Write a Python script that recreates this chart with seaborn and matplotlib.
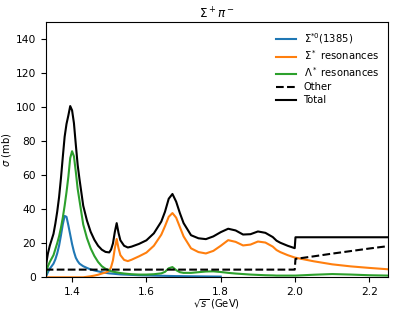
import numpy as np
import matplotlib
matplotlib.use("Agg")
import matplotlib.pyplot as plt
import seaborn as sns

# sqrt(s) grid in GeV
energy = [1.329, 1.332, 1.335, 1.34, 1.345, 1.35, 1.355, 1.36, 1.365, 1.37,
          1.375, 1.38, 1.385, 1.39, 1.395, 1.40, 1.405, 1.41, 1.415, 1.42,
          1.43, 1.44, 1.45, 1.46, 1.47, 1.48, 1.49, 1.50, 1.505, 1.51,
          1.515, 1.52, 1.525, 1.53, 1.54, 1.55, 1.56, 1.58, 1.60, 1.62,
          1.64, 1.65, 1.66, 1.67, 1.68, 1.69, 1.70, 1.72, 1.74, 1.76,
          1.78, 1.80, 1.82, 1.84, 1.86, 1.88, 1.90, 1.92, 1.94, 1.95,
          1.96, 1.98, 1.999, 2.001, 2.05, 2.10, 2.15, 2.20, 2.25]

nan = np.nan
sigma_1385 = [0, 1.5, 3, 5, 6.5, 8, 10.5, 14, 18.5, 24.5,
              31, 36, 35.5, 30.5, 25, 19.5, 15, 11.5, 9.5, 8,
              6.5, 5.5, 4.6, 4.0, 3.5, 3.0, 2.6, 2.3, 2.2, 2.1,
              2.0, 1.9, 1.8, 1.7, 1.6, 1.5, 1.4, 1.2, 1.1, 1.0,
              0.9, 0.85, 0.8, 0.75, 0.7, 0.7, 0.65, 0.6, 0.55, 0.5,
              0.45, 0.4, nan, nan, nan, nan, nan, nan, nan, nan,
              nan, nan, nan, nan, nan, nan, nan, nan, nan]

sigma_res = [0, 0, 0, 0, 0, 0, 0, 0, 0, 0,
             0, 0, 0, 0, 0, 0, 0, 0, 0, 0,
             0, 0.3, 0.6, 1.0, 1.5, 2.2, 2.8, 3.8, 6.0, 10,
             17, 22.5, 17, 13, 10.2, 9.5, 10.3, 12.3, 14.5, 18.5,
             25, 30, 35.5, 37.7, 35, 29.5, 24, 17, 14.8, 14,
             15.5, 18.5, 21.8, 20.8, 18.7, 19.2, 21, 20.4, 18, 16,
             14.8, 13, 11.6, 11.5, 9.4, 7.6, 6.4, 5.5, 4.7]

lambda_res = [0, 4, 6.5, 9, 11, 13, 16.5, 20, 24, 29,
              35, 42, 50, 59, 70, 74, 71, 62, 52, 45,
              31, 23, 17, 12.5, 9, 6.5, 5, 4, 3.6, 3.3,
              3.1, 2.9, 2.7, 2.5, 2.2, 2.0, 1.8, 1.6, 1.6, 1.8,
              2.3, 3.2, 5.3, 6.0, 4.2, 3.0, 2.6, 2.6, 3.0, 3.4,
              3.5, 3.1, 2.6, 2.2, 1.9, 1.6, 1.4, 1.2, 1.1, 1.0,
              1.0, 1.0, 1.0, 1.0, 1.5, 1.9, 1.6, 1.2, 1.0]

other = [4.5] * 63 + [10.8, 12.3, 13.9, 15.4, 16.9, 18.3]

total = [4.5, 10, 14, 18.5, 22, 25.5, 31.5, 38.5, 47, 58,
         70.5, 82.5, 90, 95, 100.5, 98, 90.5, 78, 66, 57.5,
         42, 33.3, 26.7, 22, 18.5, 16.2, 14.9, 14.6, 16.3, 19.9,
         26.6, 31.8, 26, 21.7, 18.5, 17.5, 18, 19.6, 21.7, 25.8,
         32.7, 38.5, 46.1, 48.9, 44.4, 37.7, 31.8, 24.7, 22.9, 22.4,
         24, 26.5, 28.5, 27.5, 25.1, 25.3, 26.9, 26.1, 23.6, 21.5,
         20.3, 18.5, 17.1, 23.5, 23.5, 23.5, 23.5, 23.5, 23.5]

plt.rcParams['font.size'] = 7.2

fig = plt.figure(figsize=(3.99, 3.15), dpi=100)
ax = fig.add_axes([0.1145, 0.1197, 0.858, 0.8113])

sns.lineplot(x=energy, y=sigma_1385, color='C0', lw=1.5, label=r'$\Sigma^{*0}$(1385)', ax=ax)
sns.lineplot(x=energy, y=sigma_res, color='C1', lw=1.5, label=r'$\Sigma^*$ resonances', ax=ax)
sns.lineplot(x=energy, y=lambda_res, color='C2', lw=1.5, label=r'$\Lambda^*$ resonances', ax=ax)
sns.lineplot(x=energy, y=other, color='k', lw=1.5, linestyle='--', label='Other', ax=ax)
sns.lineplot(x=energy, y=total, color='k', lw=1.5, label='Total', ax=ax)

ax.set_xlim(1.329, 2.25)
ax.set_ylim(0, 150)
ax.set_xticks([1.4, 1.6, 1.8, 2.0, 2.2])
ax.set_yticks([0, 20, 40, 60, 80, 100, 120, 140])
ax.tick_params(labelsize=7.7)
ax.set_xlabel(r'$\sqrt{s}$ (GeV)', labelpad=0)
ax.set_ylabel(r'$\sigma$ (mb)', labelpad=2)
ax.set_title(r'$\Sigma^+\pi^-$', pad=2, fontsize=8.6)
ax.legend(loc='upper right', frameon=False, labelspacing=0.3)

fig.savefig('out.png', dpi=100)
